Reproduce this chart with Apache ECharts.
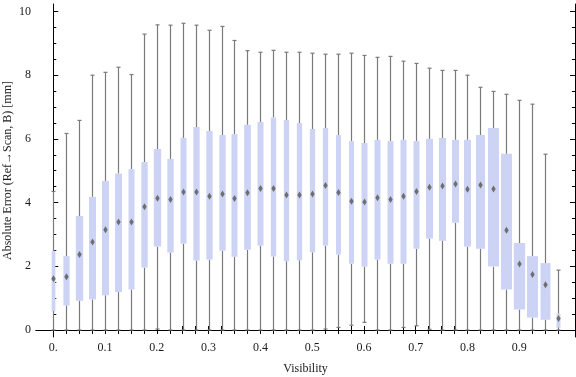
<!DOCTYPE html>
<html>
<head>
<meta charset="utf-8">
<script src="https://cdn.jsdelivr.net/npm/echarts@6/dist/echarts.min.js"></script>
<style>
html,body{margin:0;padding:0;background:#fff;}
#chart{width:576px;height:377px;}
</style>
</head>
<body>
<div id="chart"></div>
<script>
// ---- data ----
const visibility = [0, 0.025, 0.05, 0.075, 0.1, 0.125, 0.15, 0.175, 0.2, 0.225,
  0.25, 0.275, 0.3, 0.325, 0.35, 0.375, 0.4, 0.425, 0.45, 0.475,
  0.5, 0.525, 0.55, 0.575, 0.6, 0.625, 0.65, 0.675, 0.7, 0.725,
  0.75, 0.775, 0.8, 0.825, 0.85, 0.875, 0.9, 0.925, 0.95, 0.975];
const whiskerLow = [0, 0, 0, 0, 0, 0, 0, 0, 0.03, 0,
  0, 0, 0, 0, 0, 0, 0, 0, 0, 0,
  0, 0.03, 0.08, 0.15, 0.24, 0, 0, 0.08, 0.13, 0.02,
  0, 0, 0, 0, 0, 0, 0, 0, 0, 0];
const quartile1 = [0.58, 0.77, 0.92, 0.96, 1.09, 1.19, 1.27, 1.96, 2.62, 2.43,
  2.71, 2.18, 2.21, 2.49, 2.30, 2.52, 2.65, 2.31, 2.16, 2.19,
  2.44, 2.65, 2.37, 2.08, 1.99, 2.21, 2.08, 2.08, 2.55, 2.87,
  2.80, 3.37, 2.62, 2.55, 1.99, 1.27, 0.64, 0.39, 0.32, 0.07];
const medians = [1.61, 1.67, 2.37, 2.76, 3.15, 3.39, 3.39, 3.87, 4.14, 4.10,
  4.33, 4.33, 4.20, 4.27, 4.13, 4.31, 4.44, 4.44, 4.24, 4.24,
  4.27, 4.54, 4.32, 4.04, 4.02, 4.15, 4.10, 4.20, 4.35, 4.48,
  4.52, 4.58, 4.42, 4.55, 4.43, 3.13, 2.07, 1.74, 1.42, 0.36];
const quartile3 = [2.49, 2.32, 3.58, 4.18, 4.68, 4.91, 5.05, 5.27, 5.68, 5.37,
  6.03, 6.37, 6.25, 6.12, 6.15, 6.44, 6.53, 6.67, 6.59, 6.50,
  6.31, 6.34, 6.12, 5.93, 5.87, 5.97, 5.93, 5.97, 5.93, 6.00,
  6.03, 5.97, 5.97, 6.12, 6.34, 5.53, 2.73, 2.32, 2.10, 0.51];
const whiskerHigh = [4.35, 6.17, 6.58, 8.00, 8.09, 8.25, 8.02, 9.29, 9.58, 9.57,
  9.63, 9.57, 9.41, 9.53, 9.09, 8.77, 8.72, 8.78, 8.72, 8.72,
  8.69, 8.66, 8.66, 8.69, 8.62, 8.56, 8.59, 8.44, 8.37, 8.22,
  8.15, 8.15, 8.00, 7.62, 7.49, 7.40, 7.21, 7.09, 5.52, 1.88];
// relative box width (sample weight) per bin
const relWidth = [0.33, 0.55, 0.65, 0.62, 0.62, 0.62, 0.53, 0.56, 0.65, 0.56,
  0.53, 0.56, 0.56, 0.56, 0.53, 0.59, 0.53, 0.47, 0.47, 0.47,
  0.47, 0.47, 0.44, 0.44, 0.53, 0.53, 0.53, 0.53, 0.53, 0.62,
  0.62, 0.62, 0.62, 0.80, 0.97, 0.97, 1.00, 0.97, 0.88, 0.35];
const xLabelValues = [0, 0.1, 0.2, 0.3, 0.4, 0.5, 0.6, 0.7, 0.8, 0.9];
const yLabelValues = [0, 2, 4, 6, 8, 10];
const yMinorValues = [0.5, 1, 1.5, 2.5, 3, 3.5, 4.5, 5, 5.5, 6.5, 7, 7.5, 8.5, 9, 9.5, 10];

// ---- chart ----
const FONT = 'Liberation Serif';
const X_MIN = -0.0334, X_MAX = 1.0077;
const Y_MIN = -0.22, Y_MAX = 10.235;
const MAX_BOX_W = 0.0218; // in visibility units
const WHISK = '#7a7a7a';

const seriesData = visibility.map((v, i) => [v, whiskerLow[i], quartile1[i], medians[i], quartile3[i], whiskerHigh[i], relWidth[i]]);

function renderItem(params, api) {
  const x = api.value(0);
  const pLo = api.coord([x, api.value(1)]);
  const pQ1 = api.coord([x, api.value(2)]);
  const pMed = api.coord([x, api.value(3)]);
  const pQ3 = api.coord([x, api.value(4)]);
  const pHi = api.coord([x, api.value(5)]);
  const w = api.size([MAX_BOX_W * api.value(6), 0])[0];
  const cx = Math.round(pMed[0]) + 0.5;
  const ls = {stroke: WHISK, lineWidth: 1.2};
  const cap = 2;
  return {
    type: 'group',
    children: [
      {type: 'line', shape: {x1: cx, y1: pLo[1], x2: cx, y2: pQ1[1]}, style: ls},
      {type: 'line', shape: {x1: cx, y1: pQ3[1], x2: cx, y2: pHi[1]}, style: ls},
      {type: 'line', shape: {x1: cx - cap, y1: pLo[1], x2: cx + cap, y2: pLo[1]}, style: ls},
      {type: 'line', shape: {x1: cx - cap, y1: pHi[1], x2: cx + cap, y2: pHi[1]}, style: ls},
      {type: 'rect', shape: {x: cx - w / 2, y: pQ3[1], width: w, height: pQ1[1] - pQ3[1]}, style: {fill: '#ccd3f5'}},
      {type: 'polygon', shape: {points: [[cx, pMed[1] - 3.5], [cx + 2.2, pMed[1]], [cx, pMed[1] + 3.5], [cx - 2.2, pMed[1]]]}, style: {fill: '#6e6e6e'}}
    ]
  };
}

const axisLineStyle = {show: true, lineStyle: {color: '#000', width: 1}};
const labelStyle = {fontFamily: FONT, fontSize: 12, color: '#1a1a1a'};

const chart = echarts.init(document.getElementById('chart'), null, {renderer: 'canvas'});
chart.setOption({
  animation: false,
  backgroundColor: '#fff',
  grid: {left: 36, right: 1, top: 4, bottom: 40, containLabel: false, outerBoundsMode: 'none'},
  xAxis: [
    {
      type: 'value', position: 'bottom', min: X_MIN, max: X_MAX,
      axisLine: axisLineStyle,
      axisTick: {show: true, inside: true, length: 4, customValues: visibility, lineStyle: {color: '#000'}},
      axisLabel: Object.assign({customValues: xLabelValues, margin: 5,
        formatter: v => (v === 0 ? '0.' : (Math.round(v * 10) / 10).toFixed(1))}, labelStyle),
      splitLine: {show: false},
      name: 'Visibility', nameLocation: 'middle', nameGap: 26, nameMoveOverlap: false,
      nameTextStyle: {fontFamily: FONT, fontSize: 12, color: '#1a1a1a'}
    },
    {
      type: 'value', position: 'top', min: X_MIN, max: X_MAX,
      axisLine: axisLineStyle,
      axisTick: {show: true, inside: true, length: 4, customValues: visibility, lineStyle: {color: '#000'}},
      axisLabel: {show: false}, splitLine: {show: false}
    }
  ],
  yAxis: [
    {
      type: 'value', position: 'left', min: Y_MIN, max: Y_MAX,
      axisLine: axisLineStyle,
      axisTick: {show: true, inside: true, length: 5, customValues: yLabelValues, lineStyle: {color: '#000'}},
      axisLabel: Object.assign({customValues: yLabelValues, margin: 5}, labelStyle),
      splitLine: {show: false},
      name: 'Absolute Error (Ref\u2192Scan, B) [mm]', nameLocation: 'middle', nameGap: 22, nameRotate: 90,
      nameMoveOverlap: false,
      nameTextStyle: {fontFamily: FONT, fontSize: 12, color: '#1a1a1a'}
    },
    {
      type: 'value', position: 'left', min: Y_MIN, max: Y_MAX,
      axisLine: {show: false},
      axisTick: {show: true, inside: true, length: 3, customValues: yMinorValues, lineStyle: {color: '#000'}},
      axisLabel: {show: false}, splitLine: {show: false}
    },
    {
      type: 'value', position: 'right', min: Y_MIN, max: Y_MAX,
      axisLine: axisLineStyle,
      axisTick: {show: true, inside: true, length: 5, customValues: yLabelValues, lineStyle: {color: '#000'}},
      axisLabel: {show: false}, splitLine: {show: false}
    },
    {
      type: 'value', position: 'right', min: Y_MIN, max: Y_MAX,
      axisLine: {show: false},
      axisTick: {show: true, inside: true, length: 3, customValues: yMinorValues, lineStyle: {color: '#000'}},
      axisLabel: {show: false}, splitLine: {show: false}
    }
  ],
  series: [{
    type: 'custom',
    xAxisIndex: 0, yAxisIndex: 0,
    renderItem: renderItem,
    encode: {x: 0, y: [1, 2, 3, 4, 5]},
    data: seriesData,
    clip: false
  }]
});
</script>
</body>
</html>
